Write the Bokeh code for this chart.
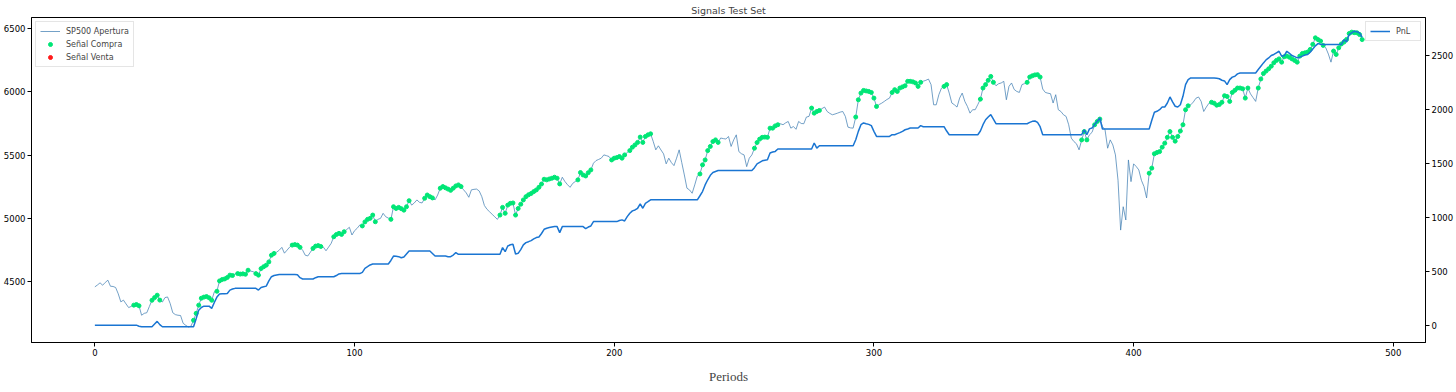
from bokeh.plotting import figure
from bokeh.models import Range1d, LinearAxis, FixedTicker, Legend, LegendItem
from bokeh.embed import file_html
from bokeh.resources import INLINE

# ---- data ----
sp500 = [
    4455, 4470, 4487, 4468, 4490, 4508, 4460, 4458, 4450, 4400,
    4336, 4350, 4320, 4291, 4300, 4310, 4315, 4305, 4230, 4245,
    4250, 4300, 4349, 4370, 4389, 4350, 4335, 4370, 4375, 4323,
    4250, 4235, 4230, 4228, 4166, 4150, 4137, 4143, 4190, 4245,
    4310, 4365, 4374, 4378, 4368, 4349, 4415, 4420, 4502, 4513,
    4518, 4529, 4548, 4545, 4558, 4560, 4556, 4558, 4555, 4587,
    4580, 4575, 4560, 4548, 4600, 4615, 4627, 4653, 4706, 4720,
    4730, 4746, 4768, 4722, 4746, 4770, 4786, 4790, 4786, 4768,
    4746, 4706, 4700, 4730, 4760, 4778, 4782, 4775, 4770, 4741,
    4770, 4800, 4852, 4870, 4879, 4871, 4892, 4910, 4927, 4866,
    4900, 4919, 4945, 4938, 4970, 4990, 4998, 5024, 4971, 4990,
    4998, 5038, 5011, 5000, 4990, 5090, 5076, 5085, 5075, 5063,
    5090, 5138, 5103, 5120, 5144, 5125, 5120, 5157, 5183, 5170,
    5160, 5144, 5183, 5237, 5250, 5240, 5230, 5220, 5237, 5255,
    5263, 5250, 5224, 5200, 5165, 5224, 5228, 5230, 5215, 5170,
    5100, 5070, 5050, 5030, 5010, 4990, 5024, 5085, 5038, 5103,
    5117, 5120, 5024, 5076, 5110, 5144, 5170, 5185, 5195, 5210,
    5223, 5244, 5270, 5308, 5303, 5310, 5316, 5324, 5316, 5271,
    5324, 5290, 5265, 5244, 5275, 5290, 5303, 5361, 5342, 5334,
    5360, 5382, 5435, 5456, 5465, 5475, 5501, 5495, 5488, 5461,
    5475, 5480, 5488, 5475, 5501, 5520, 5535, 5562, 5580, 5600,
    5642, 5600, 5647, 5660, 5668, 5608, 5541, 5573, 5540, 5509,
    5430, 5475, 5440, 5416, 5475, 5541, 5440, 5342, 5237, 5223,
    5197, 5263, 5334, 5350, 5422, 5461, 5535, 5568, 5607, 5620,
    5600, 5635, 5630, 5627, 5647, 5568, 5620, 5660, 5527, 5510,
    5501, 5408, 5475, 5501, 5554, 5599, 5626, 5640, 5642, 5640,
    5713, 5713, 5731, 5740, 5748, 5740, 5755, 5766, 5713, 5726,
    5704, 5766, 5750, 5748, 5801, 5806, 5872, 5832, 5845, 5853,
    5868, 5880, 5845, 5830, 5819, 5825, 5832, 5840, 5845, 5806,
    5721, 5715, 5713, 5801, 5938, 5991, 6012, 6008, 6004, 5996,
    5951, 5885, 5900, 5911, 5925, 5940, 5951, 5996, 6018, 6004,
    6031, 6040, 6049, 6084, 6084, 6080, 6071, 6044, 6076, 6085,
    6092, 6102, 6058, 5898, 5898, 5978, 6030, 6044, 6058, 5991,
    5912, 5898, 5880, 5951, 5991, 5925, 5885, 5832, 5859, 5859,
    5900, 5943, 6031, 6058, 6092, 6123, 6076, 6049, 6065, 6071,
    6084, 5938, 6044, 6071, 6020, 6004, 5996, 6058, 6066, 6076,
    6118, 6128, 6135, 6137, 6118, 6023, 5996, 5990, 5986, 5912,
    5978, 5859, 5845, 5819, 5806, 5740, 5634, 5607, 5589, 5541,
    5620, 5686, 5620, 5660, 5680, 5740, 5766, 5785, 5726, 5700,
    5554, 5620, 5580, 5501, 5300, 4905, 5090, 4985, 5461, 5289,
    5430, 5409, 5382, 5300, 5250, 5160, 5356, 5396, 5510, 5520,
    5527, 5562, 5594, 5640, 5686, 5640, 5610, 5647, 5690, 5740,
    5859, 5890, 5898, 5920, 5950, 5960, 5925, 5845, 5880, 5910,
    5918, 5911, 5895, 5900, 5918, 5970, 5964, 5925, 5996, 6013,
    6031, 6031, 6025, 5951, 6031, 5985, 5955, 5925, 6031, 6103,
    6146, 6165, 6183, 6204, 6231, 6250, 6262, 6236, 6279, 6284,
    6275, 6262, 6250, 6236, 6284, 6305, 6310, 6316, 6337, 6377,
    6429, 6415, 6403, 6369, 6350, 6300, 6236, 6324, 6297, 6350,
    6380, 6395, 6416, 6463, 6474, 6470, 6469, 6455, 6415,
]

pnl = [
    0, 0, 0, 0, 0, 0, 0, 0, 0, 0,
    0, 0, 0, 0, 0, 0, 0, -10, -15, -15,
    -15, -15, -15, 10, 35, 5, -15, -15, -15, -15,
    -15, -15, -15, -15, -15, -15, -15, -15, -15, 60,
    139, 164, 176, 176, 176, 155, 210, 260, 288, 290,
    292, 294, 325, 335, 341, 341, 341, 341, 341, 341,
    341, 341, 341, 325, 350, 356, 362, 410, 449, 460,
    465, 470, 470, 470, 470, 470, 470, 470, 468, 440,
    428, 428, 428, 428, 428, 440, 449, 449, 449, 449,
    449, 449, 449, 460, 475, 478, 478, 478, 478, 478,
    478, 478, 478, 490, 527, 542, 558, 567, 567, 567,
    567, 567, 567, 567, 600, 641, 638, 635, 625, 632,
    660, 688, 688, 688, 688, 688, 688, 688, 688, 688,
    665, 641, 641, 641, 641, 641, 635, 635, 650, 672,
    657, 657, 657, 657, 657, 657, 657, 657, 657, 657,
    657, 657, 657, 657, 657, 657, 657, 719, 681, 734,
    745, 750, 660, 666, 700, 744, 765, 774, 784, 800,
    812, 818, 850, 889, 899, 905, 910, 914, 914, 858,
    914, 914, 914, 914, 914, 914, 914, 914, 914, 895,
    910, 920, 960, 960, 960, 960, 960, 960, 960, 960,
    960, 960, 970, 976, 966, 1006, 1037, 1060, 1068, 1084,
    1124, 1084, 1130, 1145, 1162, 1162, 1162, 1162, 1162, 1162,
    1162, 1162, 1162, 1162, 1162, 1162, 1162, 1162, 1162, 1162,
    1162, 1162, 1162, 1200, 1239, 1300, 1348, 1390, 1415, 1425,
    1434, 1434, 1434, 1434, 1434, 1434, 1434, 1434, 1434, 1434,
    1434, 1434, 1434, 1434, 1460, 1496, 1510, 1524, 1530, 1533,
    1596, 1605, 1611, 1633, 1633, 1633, 1633, 1633, 1633, 1633,
    1633, 1633, 1633, 1633, 1633, 1633, 1633, 1689, 1642, 1664,
    1664, 1664, 1664, 1664, 1664, 1664, 1664, 1664, 1664, 1664,
    1664, 1664, 1664, 1720, 1797, 1859, 1875, 1868, 1862, 1850,
    1797, 1750, 1750, 1750, 1750, 1750, 1750, 1766, 1766, 1776,
    1785, 1797, 1812, 1819, 1828, 1828, 1828, 1828, 1850, 1840,
    1840, 1840, 1840, 1840, 1840, 1840, 1840, 1840, 1800, 1766,
    1766, 1766, 1766, 1766, 1766, 1766, 1766, 1766, 1766, 1766,
    1766, 1800, 1859, 1905, 1930, 1952, 1910, 1868, 1868, 1868,
    1868, 1868, 1868, 1868, 1868, 1868, 1868, 1868, 1868, 1868,
    1880, 1890, 1893, 1880, 1840, 1766, 1766, 1766, 1766, 1766,
    1766, 1766, 1766, 1766, 1766, 1766, 1766, 1766, 1766, 1766,
    1766, 1812, 1766, 1820, 1828, 1860, 1890, 1921, 1819, 1819,
    1819, 1819, 1819, 1819, 1819, 1819, 1819, 1819, 1819, 1819,
    1819, 1819, 1819, 1819, 1819, 1819, 1819, 1900, 1975, 1983,
    1998, 2023, 2023, 2060, 2116, 2070, 2030, 2023, 2044, 2122,
    2230, 2277, 2293, 2293, 2293, 2293, 2293, 2293, 2293, 2293,
    2293, 2293, 2290, 2285, 2271, 2265, 2231, 2277, 2300, 2308,
    2330, 2339, 2339, 2339, 2339, 2339, 2339, 2339, 2370, 2401,
    2432, 2460, 2478, 2500, 2510, 2525, 2540, 2494, 2500, 2540,
    2520, 2500, 2490, 2479, 2485, 2495, 2505, 2510, 2531, 2560,
    2590, 2611, 2605, 2602, 2602, 2602, 2602, 2602, 2602, 2602,
    2602, 2649, 2625, 2695, 2711, 2726, 2720, 2711, 2670,
]

# periods (first, last) carrying a buy signal; no sell signals visible
buy_spans = [
    (15, 17), (22, 25), (38, 45), (47, 53), (55, 59), (62, 64), (65, 69),
    (76, 79), (84, 87), (92, 96), (103, 108), (114, 121), (127, 130),
    (133, 141), (156, 179), (186, 191), (199, 204), (206, 214), (233, 240),
    (254, 263), (276, 279), (293, 301), (307, 318), (327, 328), (341, 346),
    (359, 364), (380, 382), (385, 387), (406, 421), (430, 444), (448, 473),
    (477, 488),
]
sell_idx = []

x_ticks = [0, 100, 200, 300, 400, 500]
left_ticks = [4500, 5000, 5500, 6000, 6500]
right_ticks = [0, 500, 1000, 1500, 2000, 2500]

n = min(len(sp500), len(pnl))
periods = list(range(n))
buy_idx = [i for a, b in buy_spans for i in range(a, b + 1) if i < n]
buy_x = buy_idx
buy_y = [sp500[i] for i in buy_idx]
sell_x = sell_idx
sell_y = [sp500[i] for i in sell_idx]

p = figure(width=1456, height=392, output_backend="svg", toolbar_location=None,
           x_range=Range1d(-24.4, 512.4), y_range=Range1d(4014, 6590),
           title="Signals Test Set", min_border=0, min_border_bottom=50)
p.extra_y_ranges = {"pnl": Range1d(-161, 2853)}

p.title.align = "center"
p.title.text_font = "DejaVu Sans"
p.title.text_font_size = "9.5px"
p.title.text_font_style = "normal"
p.title.standoff = 4

p.xgrid.visible = False
p.ygrid.visible = False
p.outline_line_color = "black"
p.outline_line_width = 1
p.outline_line_alpha = 1

p.xaxis.ticker = FixedTicker(ticks=x_ticks)
p.yaxis.ticker = FixedTicker(ticks=left_ticks)
p.xaxis.axis_label = "Periods"
p.xaxis.axis_label_text_font = "Liberation Serif"
p.xaxis.axis_label_text_font_size = "13px"
p.xaxis.axis_label_text_font_style = "normal"
p.xaxis.axis_label_standoff = 10

raxis = LinearAxis(y_range_name="pnl", ticker=FixedTicker(ticks=right_ticks))
p.add_layout(raxis, "right")

for ax in [p.xaxis[0], p.yaxis[0], raxis]:
    ax.major_label_text_font = "DejaVu Sans"
    ax.major_label_text_font_size = "8.5px"
    ax.major_label_text_color = "black"
    ax.major_tick_in = 0
    ax.major_tick_out = 4
    ax.major_tick_line_color = "black"
    ax.minor_tick_line_color = None
    ax.axis_line_color = "black"
    ax.major_label_standoff = 2

r_sp = p.line(periods, sp500[:n], line_color="#4682b4", line_alpha=0.75, line_width=1)
r_buy = p.scatter(buy_x, buy_y, size=4, marker="circle", fill_color="#00e676",
                  line_color="#00e676")
r_sell = p.scatter(sell_x, sell_y, size=4, marker="circle", fill_color="#ff1a1a",
                   line_color="#ff1a1a")
# legend swatch for the (empty) sell series
r_sell_key = p.scatter([float("nan")], [float("nan")], size=4, marker="circle",
                       fill_color="#ff1a1a", line_color="#ff1a1a")
r_pnl = p.line(periods, pnl[:n], y_range_name="pnl", line_color="#1a75d2", line_width=1.5)

leg1 = Legend(items=[LegendItem(label="SP500 Apertura", renderers=[r_sp]),
                     LegendItem(label="Señal Compra", renderers=[r_buy]),
                     LegendItem(label="Señal Venta", renderers=[r_sell_key])],
              location="top_left")
leg2 = Legend(items=[LegendItem(label="PnL", renderers=[r_pnl])], location="top_right")
for lg in (leg1, leg2):
    lg.label_text_font = "DejaVu Sans"
    lg.label_text_font_size = "8px"
    lg.glyph_width = 20
    lg.glyph_height = 10
    lg.label_height = 10
    lg.label_standoff = 6
    lg.spacing = 3
    lg.padding = 4
    lg.margin = 4
    lg.border_line_color = "#cccccc"
    lg.background_fill_alpha = 0.8
    p.add_layout(lg, "center")

open("out.html", "w").write(file_html(p, INLINE))
